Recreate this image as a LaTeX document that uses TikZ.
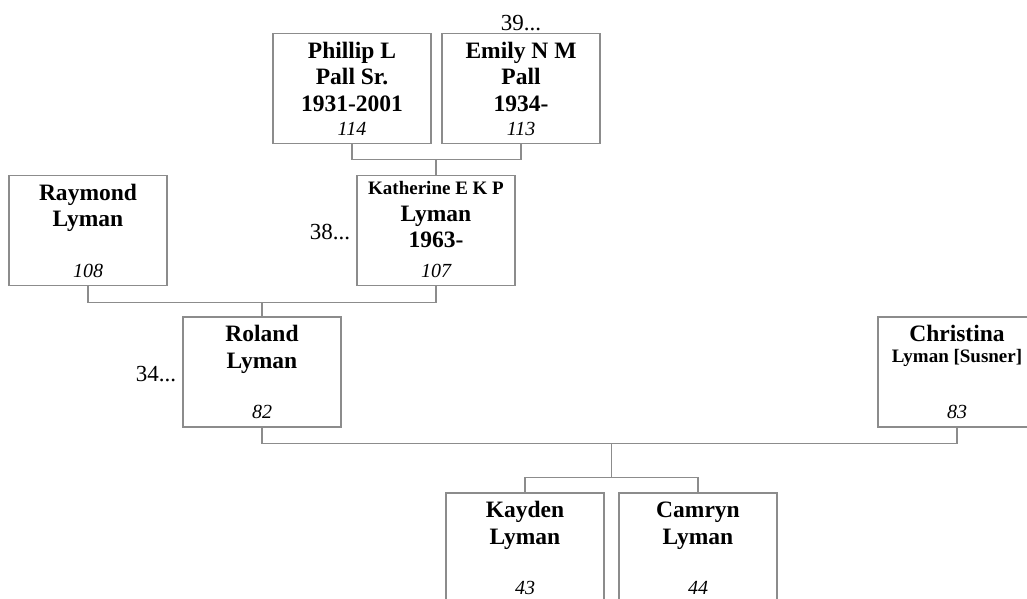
\documentclass[tikz,border=0pt]{standalone}
\usepackage{fontspec}
\setmainfont{Liberation Serif}
\usetikzlibrary{positioning,calc}
\definecolor{linegray}{RGB}{140,140,140}
\newcommand{\persfont}{\fontsize{23.5}{26.5}\selectfont\bfseries}
\newcommand{\smallnm}[1]{{\fontsize{19}{21}\selectfont #1}}
\tikzset{
  personbox/.style={draw=linegray, line width=1.3pt, minimum width=158pt, minimum height=110pt, inner sep=0pt},
  link/.style={draw=linegray, line width=1.3pt},
  more/.style={font=\fontsize{23}{26}\selectfont, inner sep=0pt},
  pics/person/.style 2 args={
    code = {
        \node [personbox] (-box) {};
        \node [anchor=base, inner sep=0pt] (-name) at ([yshift=-25.5pt]-box.north) {\parbox[t]{156pt}{\centering\persfont #1}};
        \node [anchor=base, inner sep=0pt, font=\fontsize{20}{24}\selectfont\itshape] (-num) at ([yshift=9pt]-box.south) {#2};
    }
  }
}
\begin{document}
\begin{tikzpicture}[x=1pt, y=-1pt]
            \useasboundingbox (0,0) rectangle (1027,599);
            \pic (phillip) at (352,88.5) {person={Phillip L\\Pall Sr.\\1931-2001}{114}};
            \pic (emily) at (521,88.5) {person={Emily N M\\Pall\\1934-}{113}};
            \pic (raymond) at (88,230.5) {person={Raymond\\Lyman}{108}};
            \pic (katherine) at (436,230.5) {person={\raisebox{5.5pt}{\smallnm{Katherine E K P}}\\[-5.5pt]Lyman\\1963-}{107}};
            \pic (roland) at (262,372) {person={Roland\\Lyman}{82}};
            \pic (christina) at (957,372) {person={Christina\\[-5.5pt]\smallnm{Lyman [Susner]}}{83}};
            \pic (kayden) at (525,548) {person={Kayden\\Lyman}{43}};
            \pic (camryn) at (698,548) {person={Camryn\\Lyman}{44}};

            \node (emilyup) [more, above = 1.5pt of emily-box] {39...};
            \node (katherineup) [more, left = 6pt of katherine-box, yshift=-1.5pt] {38...};
            \node (rolandup) [more, left = 6pt of roland-box, yshift=-2pt] {34...};

            \coordinate (pallbar) at ([yshift=-15pt]phillip-box.south);
            \draw [link] (phillip-box.south) -- (pallbar) -| (emily-box.south);
            \draw [link] (katherine-box.north) -- (katherine-box.north |- pallbar);

            \coordinate (lymanbar) at ([yshift=-16pt]raymond-box.south);
            \draw [link] (raymond-box.south) -- (lymanbar) -| (katherine-box.south);
            \draw [link] (roland-box.north) -- (roland-box.north |- lymanbar);

            \coordinate (familybar) at ([yshift=-16pt]roland-box.south);
            \draw [link] (roland-box.south) -- (familybar) -| (christina-box.south);
            \coordinate (kidsbar) at ([yshift=15pt]kayden-box.north);
            \draw [link] (kayden-box.north) -- (kidsbar) -| (camryn-box.north);
            \coordinate (kidsmid) at ($(kayden-box.north)!0.5!(camryn-box.north)$);
            \draw [link] (kidsmid |- familybar) -- (kidsmid |- kidsbar);
        \end{tikzpicture}
\end{document}
